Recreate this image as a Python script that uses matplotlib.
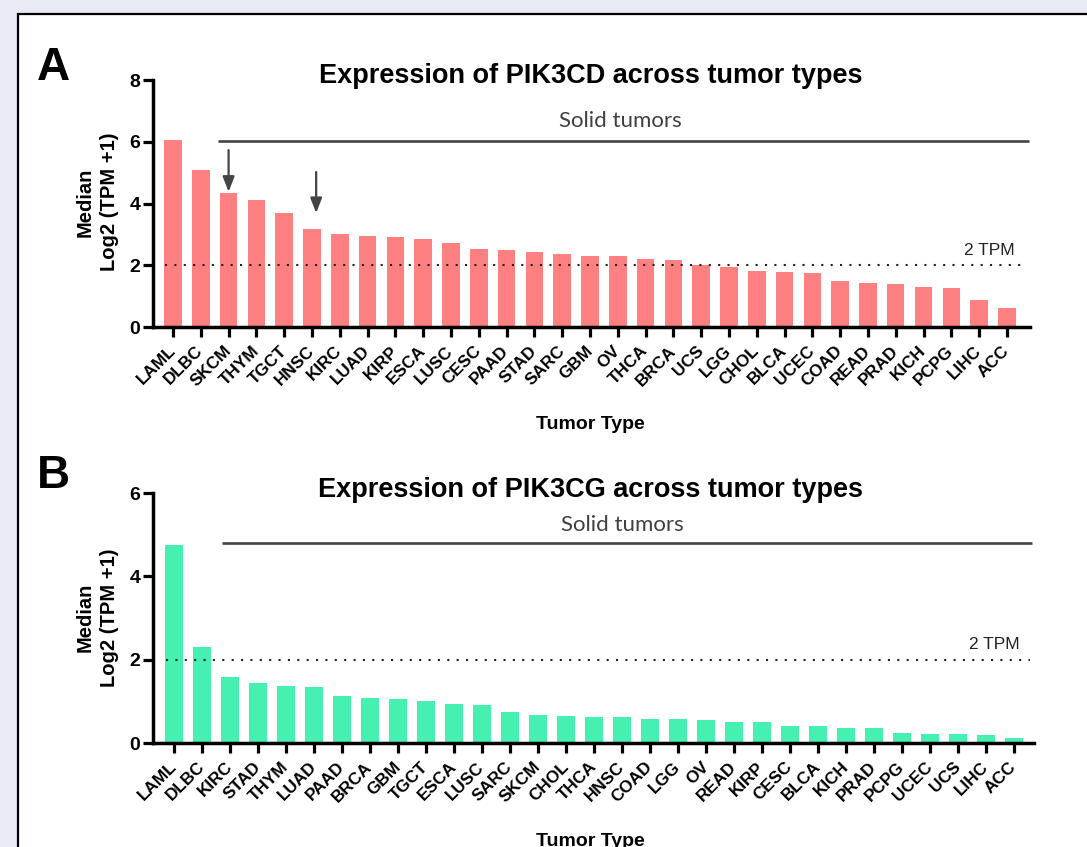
import matplotlib
matplotlib.use("Agg")
import matplotlib.pyplot as plt
import matplotlib.transforms as mtransforms
from matplotlib.patches import Rectangle

# ---------------- data ----------------
cats_cd = ["LAML", "DLBC", "SKCM", "THYM", "TGCT", "HNSC", "KIRC", "LUAD", "KIRP", "ESCA",
           "LUSC", "CESC", "PAAD", "STAD", "SARC", "GBM", "OV", "THCA", "BRCA", "UCS",
           "LGG", "CHOL", "BLCA", "UCEC", "COAD", "READ", "PRAD", "KICH", "PCPG", "LIHC", "ACC"]
vals_cd = [6.05, 5.09, 4.35, 4.12, 3.70, 3.16, 3.01, 2.95, 2.91, 2.84,
           2.73, 2.54, 2.48, 2.42, 2.38, 2.30, 2.30, 2.21, 2.17, 2.01,
           1.95, 1.82, 1.79, 1.76, 1.48, 1.42, 1.39, 1.30, 1.27, 0.89, 0.61]

cats_cg = ["LAML", "DLBC", "KIRC", "STAD", "THYM", "LUAD", "PAAD", "BRCA", "GBM", "TGCT",
           "ESCA", "LUSC", "SARC", "SKCM", "CHOL", "THCA", "HNSC", "COAD", "LGG", "OV",
           "READ", "KIRP", "CESC", "BLCA", "KICH", "PRAD", "PCPG", "UCEC", "UCS", "LIHC", "ACC"]
vals_cg = [4.76, 2.30, 1.58, 1.44, 1.38, 1.35, 1.12, 1.07, 1.05, 1.02,
           0.94, 0.91, 0.75, 0.68, 0.66, 0.63, 0.63, 0.58, 0.58, 0.56,
           0.51, 0.51, 0.42, 0.40, 0.35, 0.35, 0.24, 0.22, 0.22, 0.19, 0.12]

titles = ["Expression of PIK3CD across tumor types", "Expression of PIK3CG across tumor types"]
panel_letters = ["A", "B"]
yticks_cd = [0, 2, 4, 6, 8]
yticks_cg = [0, 2, 4, 6]
threshold = 2
threshold_label = "2 TPM"
solid_label = "Solid tumors"
ylabel = "Median\nLog2 (TPM +1)"
xlabel = "Tumor Type"

# ---------------- style ----------------
W, H = 1087, 847
fig = plt.figure(figsize=(W / 100, H / 100), dpi=100)
fig.patch.set_facecolor("#E8EAF5")
SANS = ["Liberation Sans", "DejaVu Sans"]
plt.rcParams["font.family"] = SANS

# white panel with black border (on a background axes)
bg = fig.add_axes([0, 0, 1, 1], zorder=-10)
bg.set_axis_off()
bg.set_xlim(0, 1)
bg.set_ylim(0, 1)
bg.add_patch(Rectangle((18 / W, -0.05), 1.2, (H - 14) / H + 0.05,
                       facecolor="white", edgecolor="black", linewidth=1.6,
                       clip_on=False))


def px(x0, y0, x1, y1):
    return [x0 / W, 1 - y1 / H, (x1 - x0) / W, (y1 - y0) / H]


def draw_panel(rect, cats, vals, yticks, color, xlim, width, solid, arrows,
               title, title_y, letter, letter_y, ylabel_y, xlabel_y, tpm_pos, solid_text):
    ax = fig.add_axes(rect)
    ax.set_facecolor("none")
    x = list(range(len(cats)))
    ax.bar(x, vals, width=width, color=color, zorder=2)
    ax.set_xlim(*xlim)
    ax.set_ylim(yticks[0], yticks[-1])
    ax.set_yticks(yticks)
    ax.set_xticks(x)
    ax.set_xticklabels(cats, rotation=45, ha="right", va="center",
                       rotation_mode="anchor", fontsize=12.3, fontweight="bold")
    shift = mtransforms.ScaledTranslation(3 / 100, -1 / 100, fig.dpi_scale_trans)
    for lab in ax.get_xticklabels():
        lab.set_transform(lab.get_transform() + shift)
    for lab in ax.get_yticklabels():
        lab.set_fontweight("bold")
        lab.set_fontsize(14)
    for s in ["top", "right"]:
        ax.spines[s].set_visible(False)
    for s in ["left", "bottom"]:
        ax.spines[s].set_linewidth(2.5)
    ax.tick_params(axis="x", length=7.5, width=2.3, pad=8)
    ax.tick_params(axis="y", length=7, width=2.3, pad=2)
    # threshold
    ax.plot([-0.3, 30.55], [threshold, threshold], color="#222222",
            linestyle=(0, (1, 3.5)), linewidth=1.5, zorder=3, clip_on=False)
    ax.text(tpm_pos[0], tpm_pos[1], threshold_label, ha="right", va="baseline",
            fontsize=12.5, color="#222222")
    # solid tumors line
    ax.plot([solid[0], solid[1]], [solid[2], solid[2]], color="#444444",
            linewidth=1.9, clip_on=False, solid_capstyle="butt")
    ax.text(solid_text[0], solid_text[1], solid_label, ha="center", va="center",
            fontsize=16, color="#404040", family=["Lato", "DejaVu Sans"])
    for (ax_x, y0, y1) in arrows:
        ax.annotate("", xy=(ax_x, y1), xytext=(ax_x, y0),
                    arrowprops=dict(arrowstyle="-|>,head_length=0.9,head_width=0.35",
                                    color="#444444", lw=1.6, shrinkA=0, shrinkB=0))
    fig.text(590.5 / W, title_y, title,
             ha="center", va="baseline", fontsize=19.5, fontweight="bold")
    fig.text(37 / W, letter_y, letter, ha="left", va="baseline",
             fontsize=33, fontweight="bold")
    fig.text(97.5 / W, ylabel_y, ylabel, rotation=90, ha="center", va="center",
             multialignment="center", fontsize=14.5, fontweight="bold", linespacing=1.35)
    fig.text(590.5 / W, xlabel_y, xlabel, ha="center", va="baseline",
             fontsize=14, fontweight="bold")
    return ax


draw_panel(px(153, 80, 1030, 327), cats_cd, vals_cd, yticks_cd, "#FF8080",
           (-0.72, 30.83), 0.63, (1.62, 30.78, 6.02),
           [(2.0, 5.73, 4.38), (5.15, 5.02, 3.69)],
           titles[0], 1 - 83 / H, panel_letters[0], 1 - 80 / H, 1 - 202 / H, 1 - 429 / H,
           (30.29, 2.33), (16.1, 6.67))

draw_panel(px(153, 493, 1034, 743), cats_cg, vals_cg, yticks_cg, "#45F0B0",
           (-0.75, 30.71), 0.65, (1.71, 30.64, 4.80), [],
           titles[1], 1 - 497 / H, panel_letters[1], 1 - 488 / H, 1 - 617.5 / H, 1 - 846 / H,
           (30.18, 2.26), (16.0, 5.23))

fig.savefig("out.png", dpi=100, facecolor=fig.get_facecolor())
